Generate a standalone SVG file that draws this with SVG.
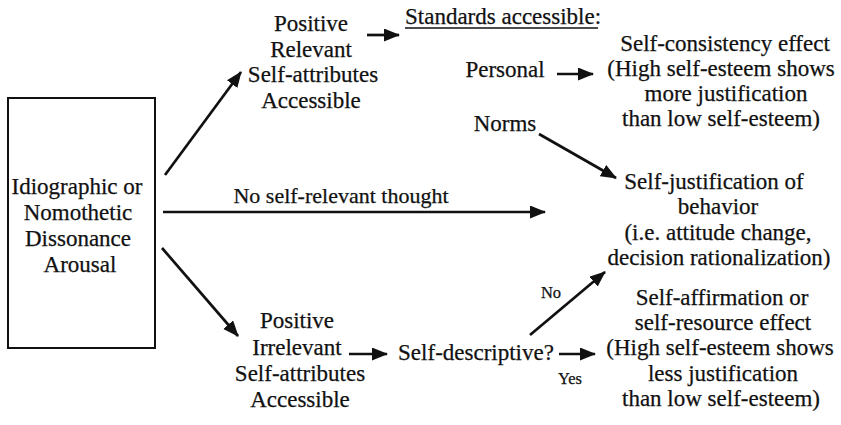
<svg xmlns="http://www.w3.org/2000/svg" width="841" height="425" viewBox="0 0 841 425">
  <style>
    text { font-size: 23px; fill: #111; stroke: #111; stroke-width: 0.25; text-anchor: middle; }
    .small { font-size: 16.5px; }
    .mid { font-size: 22px; }
    .left { text-anchor: start; }
    .edge { stroke: #111; stroke-width: 2.7; fill: none; marker-end: url(#head); }
    .box { fill: #fff; stroke: #111; stroke-width: 2; }
  </style>
  <defs>
    <marker id="head" markerUnits="userSpaceOnUse" markerWidth="17" markerHeight="14" refX="15" refY="6.5" orient="auto">
      <path d="M0,0 L16,6.5 L0,13 Z" fill="#111"/>
    </marker>
  </defs>
  <rect width="841" height="425" fill="#fff"/>

  <g font-family="Liberation Serif, Times New Roman, serif">
  <g id="arousal">
    <rect class="box" x="8" y="98" width="147" height="250"/>
    <text x="77" y="194">Idiographic or</text>
    <text x="78" y="220">Nomothetic</text>
    <text x="78" y="246">Dissonance</text>
    <text x="80" y="272">Arousal</text>
  </g>

  <g id="relevant">
    <text x="311" y="31">Positive</text>
    <text x="311" y="57">Relevant</text>
    <text x="313" y="82">Self-attributes</text>
    <text x="311" y="108">Accessible</text>
  </g>

  <g id="standards">
    <text class="left" x="405" y="24">Standards accessible:</text>
    <line x1="405" y1="28" x2="598" y2="28" stroke="#111" stroke-width="1.3"/>
    <text x="505" y="77">Personal</text>
    <text x="505" y="131">Norms</text>
  </g>

  <g id="consistency">
    <text x="725" y="51">Self-consistency effect</text>
    <text x="721" y="76">(High self-esteem shows</text>
    <text x="726" y="101">more justification</text>
    <text x="721" y="126">than low self-esteem)</text>
  </g>

  <g id="justification">
    <text x="714" y="189">Self-justification of</text>
    <text x="718" y="214">behavior</text>
    <text x="718" y="240">(i.e. attitude change,</text>
    <text x="719" y="265">decision rationalization)</text>
  </g>

  <g id="irrelevant">
    <text x="297" y="328">Positive</text>
    <text x="297" y="355">Irrelevant</text>
    <text x="300" y="381">Self-attributes</text>
    <text x="300" y="407">Accessible</text>
  </g>

  <g id="descriptive">
    <text x="476" y="360">Self-descriptive?</text>
  </g>

  <g id="affirmation">
    <text x="722" y="305">Self-affirmation or</text>
    <text x="723" y="330">self-resource effect</text>
    <text x="720" y="355">(High self-esteem shows</text>
    <text x="723" y="381">less justification</text>
    <text x="721" y="406">than low self-esteem)</text>
  </g>

  <g id="connectors">
    <line class="edge" x1="165" y1="175" x2="241" y2="72"/>
    <line class="edge" x1="367" y1="35" x2="399" y2="35"/>
    <line class="edge" x1="557" y1="74" x2="593" y2="74"/>
    <line class="edge" x1="539" y1="134" x2="616" y2="178"/>
    <line class="edge" x1="163" y1="212" x2="545" y2="212"/>
    <text class="mid" x="341" y="203">No self-relevant thought</text>
    <line class="edge" x1="162" y1="248" x2="238" y2="336"/>
    <line class="edge" x1="349" y1="354" x2="387" y2="354"/>
    <line class="edge" x1="530" y1="335" x2="605" y2="272"/>
    <text class="small" x="551" y="298">No</text>
    <line class="edge" x1="559" y1="354" x2="595" y2="354"/>
    <text class="small" x="570" y="384">Yes</text>
  </g>
  </g>
</svg>
